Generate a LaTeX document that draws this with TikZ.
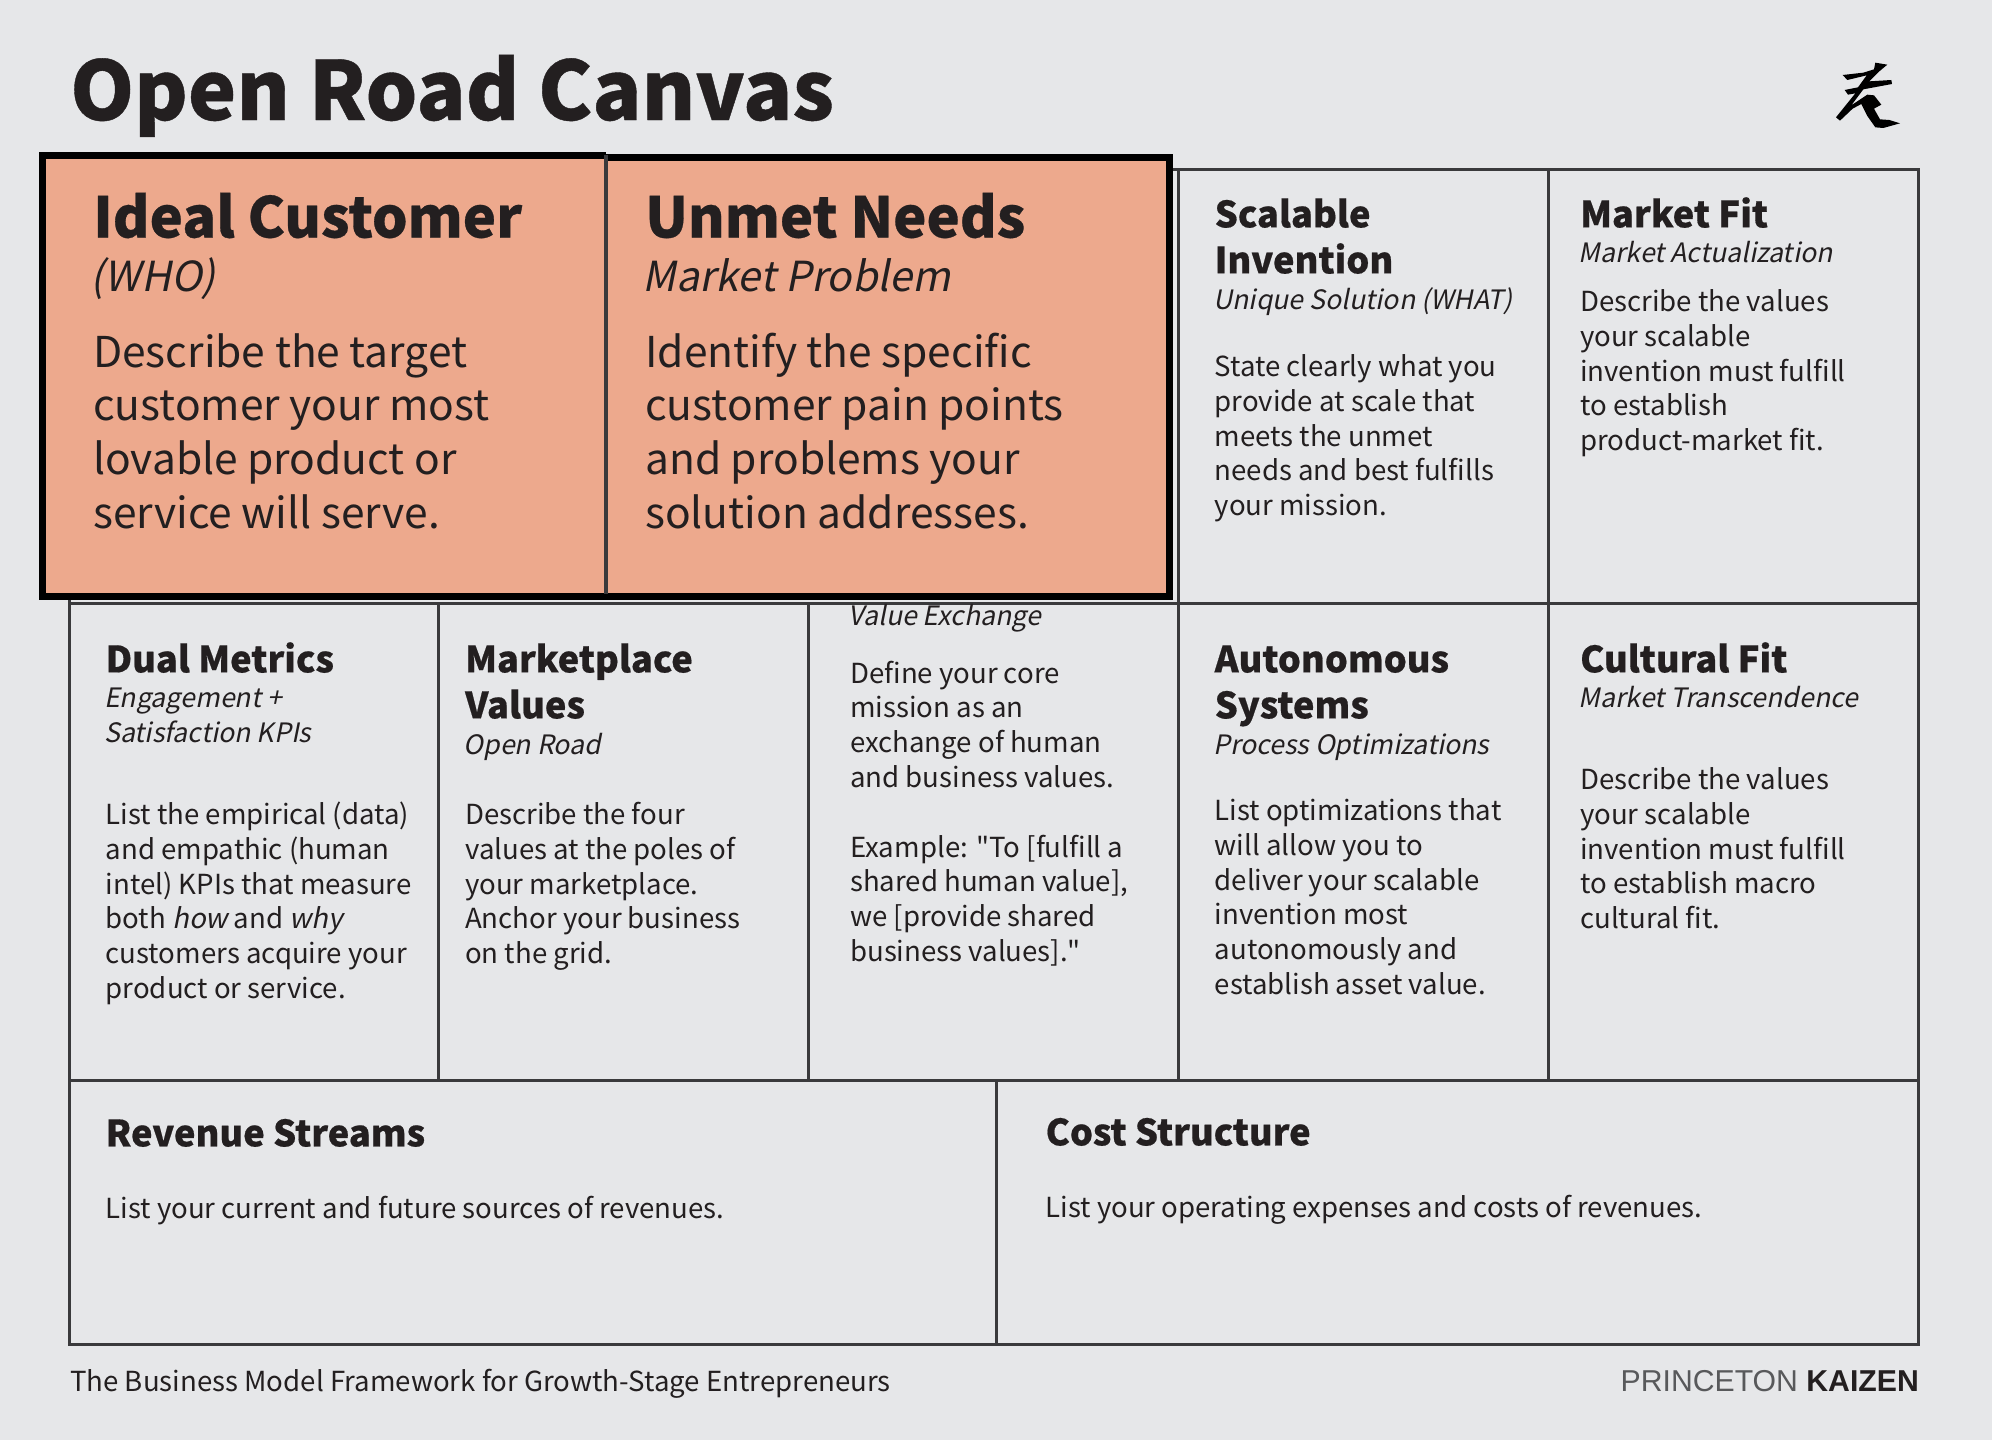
\documentclass[tikz,border=0pt]{standalone}
\usepackage{fontspec}
\setmainfont{Noto Sans CJK SC}[AutoFakeSlant=0.2]
\newfontfamily\heavyfont{Noto Sans CJK SC Black}[FakeBold=0.5]
\newfontfamily\plainquote{Noto Sans CJK SC}
\newfontfamily\logofont{Liberation Sans}
\definecolor{paper}{HTML}{E6E7E9}
\definecolor{ink}{HTML}{231F20}
\definecolor{rule}{HTML}{3A3A3C}
\definecolor{salmon}{HTML}{EDA98D}
\definecolor{logogray}{HTML}{58595B}
\usepackage{tikz}
\usetikzlibrary{positioning,calc}

\begin{document}
\begin{tikzpicture}[
  x=1pt, y=-1pt,
  cellrule/.style={draw=rule, line width=3pt},
  hotedge/.style={draw=black, line width=7pt, line join=miter},
  pagetitle/.style={anchor=base west, inner sep=0pt, text=ink, font=\heavyfont\fontsize{81.5}{90}\selectfont},
  bigtitle/.style={anchor=base west, inner sep=0pt, text=ink, font=\heavyfont\fontsize{56}{60}\selectfont},
  bigsub/.style={anchor=base west, inner sep=0pt, xshift=-2.5pt, text=ink, font=\itshape\fontsize{41.4}{46}\selectfont},
  bigbody/.style={anchor=north west, inner sep=0pt, align=left, text=ink, font=\fontsize{42.5}{53.6}\selectfont},
  cardtitle/.style={anchor=north west, inner sep=0pt, align=left, text=ink, font=\heavyfont\fontsize{36.3}{46}\selectfont},
  cardsub/.style={anchor=north west, inner sep=0pt, xshift=-1.5pt, align=left, text=ink, font=\itshape\fontsize{26.7}{34.8}\selectfont},
  cardbody/.style={anchor=north west, inner sep=0pt, align=left, text=ink, font=\fontsize{27.6}{34.8}\selectfont},
]

% Page and fixed bounds
\fill[paper] (0,0) rectangle (1992,1440);
\useasboundingbox (0,0) rectangle (1992,1440);

% Grid lines
\draw[cellrule] (69,169) rectangle (1918,1344);
\draw[cellrule] (69,603) -- (1918,603);
\draw[cellrule] (69,1080) -- (1918,1080);
\foreach \colx in {438.5,808.6} {
  \draw[cellrule] (\colx,603) -- (\colx,1080);
}
\foreach \colx in {1178,1548} {
  \draw[cellrule] (\colx,169) -- (\colx,1080);
}
\draw[cellrule] (996,1080) -- (996,1344);

% Highlighted cells
\fill[salmon] (42.5,155.5) rectangle (606,596.5);
\fill[salmon] (606,157) rectangle (1169,596.5);
\draw[hotedge] (606,155.5) -- (42.5,155.5) -- (42.5,596.5) -- (606,596.5);
\draw[hotedge] (606,157) -- (1169,157) -- (1169,596.5) -- (606,596.5);
\draw[rule, line width=4.5pt] (606,155) -- (606,594);

% Heading
\node[pagetitle] (pagehead) at (70,120) {Open Road Canvas};

% Kanji mark, filled strokes
\begin{scope}[shift={(1750,30)}, x=0.3333pt, y=-0.3333pt]
  \fill[black] (278,135) -- (340,128) -- (372,118) -- (376,98) -- (412,104) -- (388,124)
    -- (358,154) -- (424,150) -- (426,162) -- (340,178) -- (304,226) -- (352,194) -- (372,196)
    -- (394,224) -- (372,236) -- (390,268) -- (418,270) -- (450,280) -- (400,294) -- (376,292)
    -- (352,258) -- (334,222) -- (308,236) -- (270,272) -- (258,262) -- (316,190) -- (294,194)
    -- (284,180) -- (324,172) -- (350,136) -- (292,150) -- cycle;
\end{scope}

% Top row, highlighted
\node[bigtitle] (customerhead) at (93,237.5) {Ideal Customer};
\node[bigsub] (customersub) at (93,291) {(WHO)};
\node[bigbody] (customerbody) at (93,329.5) {\strut Describe the target\\customer your most\\lovable product or\\service will serve.};

\node[bigtitle] (needshead) at (645,237.5) {Unmet Needs};
\node[bigsub] (needssub) at (645,291) {Market Problem};
\node[bigbody] (needsbody) at (645,329.5) {\strut Identify the specific\\customer pain points\\and problems your\\solution addresses.};

% Top row, plain
\node[cardtitle] (inventhead) at (1214.5,195) {\strut Scalable\\Invention};
\node[cardsub] (inventsub) at (1214.5,285) {\strut Unique Solution (WHAT)};
\node[cardbody] (inventbody) at (1214.5,352) {\strut State clearly what you\\provide at scale that\\meets the unmet\\needs and best fulfills\\your mission.};

\node[cardtitle] (fithead) at (1580,195) {\strut Market Fit};
\node[cardsub] (fitsub) at (1580,238) {\strut Market Actualization};
\node[cardbody] (fitbody) at (1580,287) {\strut Describe the values\\your scalable\\invention must fulfill\\to establish\\product-market fit.};

% Middle row
\node[cardtitle] (metricshead) at (105.5,640) {\strut Dual Metrics};
\node[cardsub] (metricssub) at (105.5,683) {\strut Engagement +\\Satisfaction KPIs};
\node[cardbody] (metricsbody) at (105.5,800) {\strut List the empirical (data)\\and empathic (human\\intel) KPIs that measure\\both \textit{how} and \textit{why}\\customers acquire your\\product or service.};

\node[cardtitle] (valueshead) at (465,640) {\strut Marketplace\\Values};
\node[cardsub] (valuessub) at (465,730) {\strut Open Road};
\node[cardbody] (valuesbody) at (465,800) {\strut Describe the four\\values at the poles of\\your marketplace.\\Anchor your business\\on the grid.};

\node[cardsub] (missionsub) at (850,601) {\strut Value Exchange};
\node[cardbody] (missionbody) at (850,658.5) {\strut Define your core\\mission as an\\exchange of human\\and business values.\\[34.8pt]Example: {\plainquote"}To [fulfill a\\shared human value],\\we [provide shared\\business values].{\plainquote"}};

\node[cardtitle] (systemshead) at (1214.5,640) {\strut Autonomous\\Systems};
\node[cardsub] (systemssub) at (1214.5,730) {\strut Process Optimizations};
\node[cardbody] (systemsbody) at (1214.5,796) {\strut List optimizations that\\will allow you to\\deliver your scalable\\invention most\\autonomously and\\establish asset value.};

\node[cardtitle] (culturehead) at (1580,640) {\strut Cultural Fit};
\node[cardsub] (culturesub) at (1580,683) {\strut Market Transcendence};
\node[cardbody] (culturebody) at (1580,765) {\strut Describe the values\\your scalable\\invention must fulfill\\to establish macro\\cultural fit.};

% Bottom row
\node[cardtitle] (revenuehead) at (105.5,1114) {\strut Revenue Streams};
\node[cardbody] (revenuebody) at (105.5,1194) {\strut List your current and future sources of revenues.};
\node[cardtitle] (costhead) at (1045.5,1113) {\strut Cost Structure};
\node[cardbody] (costbody) at (1045.5,1193) {\strut List your operating expenses and costs of revenues.};

% Footer
\node[cardbody, anchor=base west] (footnote) at (70,1391.5) {The Business Model Framework for Growth-Stage Entrepreneurs};
\node[anchor=base east, inner sep=0pt, font=\logofont\fontsize{30.2}{36}\selectfont] (brand) at (1919,1391) {\textcolor{logogray}{PRINCETON} \textcolor{ink}{\bfseries KAIZEN}};

\end{tikzpicture}
\end{document}
